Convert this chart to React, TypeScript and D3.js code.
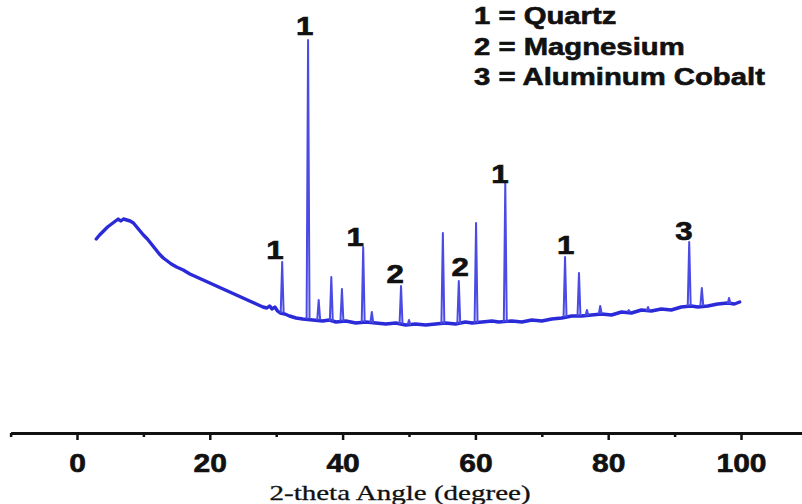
import React, { useEffect, useRef } from "react";
import * as d3 from "d3";

// background curve: [2-theta, intensity]
const background: [number, number][] = [
  [2.9,193],[3.4,197],[4.0,201],[4.6,205],[5.2,208],[5.8,211],[6.2,213],[6.6,211],[7.0,213],[7.5,212],[8.0,211],[8.5,209],[9.0,205],[9.5,201],[10.0,197],[10.6,193],[11.2,188],[11.8,183],[12.4,178],[13.0,174],[13.6,171],[14.2,168],[15.0,165],[16.0,162],[17.0,158],[18.0,155],[19.0,152],[20.0,149],[21.0,146],[22.0,143],[23.0,140],[24.0,137],[25.0,134],[26.0,131],[27.0,128],[28.0,125],[28.6,124],[29.0,126],[29.4,123],[29.8,125],[30.2,121],[30.6,119],[31.3,118],[32.0,116],[33.0,114],[34.0,113],[35.5,112],[37.0,111],[38.0,112],[39.0,110],[40.5,111],[42.0,109],[43.5,110],[45.0,109],[46.5,108],[48.0,109],[49.5,107],[51.0,108],[52.5,107],[54.0,108],[55.5,109],[57.0,108],[58.5,110],[59.5,109],[61.0,110],[62.5,111],[63.5,110],[65.5,111],[67.0,110],[68.5,112],[70.0,111],[71.5,113],[73.0,114],[74.5,116],[76.0,116],[77.5,117],[79.0,118],[80.5,117],[82.0,120],[83.5,119],[85.0,122],[86.5,121],[88.0,123],[89.5,122],[91.0,125],[92.5,126],[93.5,125],[95.0,126],[96.5,128],[98.0,129],[99.0,128],[99.8,130]
];

// peaks: [2-theta, top intensity, foot intensity]
const peaks: [number, number, number][] = [
  [30.9,170,119],[34.8,392,113],[36.4,132,112],[38.3,155,111],[39.9,143,111],[43.1,185,110],[44.4,120,109],[48.8,146,108],[50.0,112,107],[55.1,199,108],[57.5,151,108],[60.1,209,109],[64.5,249,110],[73.5,175,115],[75.6,159,116],[76.8,122,116],[78.8,126,118],[83.1,122,120],[86.0,125,121],[92.2,190,126],[94.1,144,126],[98.2,134,128]
];

// peak labels: [2-theta, intensity, label]
const peakLabels: [number, number, string][] = [
  [29.8,173,"1"],[34.3,397,"1"],[41.9,186,"1"],[47.9,149,"2"],[57.7,156,"2"],[63.7,249,"1"],[73.6,178,"1"],[91.4,192,"3"]
];

const legendItems: string[] = ["1 = Quartz", "2 = Magnesium", "3 = Aluminum Cobalt"];
const majorTicks: number[] = [0, 20, 40, 60, 80, 100];
const minorTicks: number[] = [-10, 10, 30, 50, 70, 90, 110];
const xTitle = "2-theta Angle (degree)";

const W = 802, H = 504;
const SX = 1.22;
const SANS = "Liberation Sans, Arial, sans-serif";

export default function App() {
  const axisRef = useRef<SVGGElement>(null);
  const x = d3.scaleLinear().domain([-10, 110]).range([10.6, 807.4]);
  const y = d3.scaleLinear().domain([0, 400]).range([432, 32]);

  useEffect(() => {
    const g = d3.select(axisRef.current);
    g.selectAll("*").remove();
    const minor = d3.axisBottom(x).tickValues(minorTicks).tickSize(4).tickSizeOuter(0).tickFormat(() => "");
    const major = d3.axisBottom(x).tickValues(majorTicks).tickSize(7).tickSizeOuter(0).tickFormat(d3.format("d"));
    const gm = g.append("g").call(minor);
    gm.select(".domain").remove();
    gm.selectAll("line").attr("stroke", "#111").attr("stroke-width", 2.5);
    const gM = g.append("g").call(major);
    gM.select(".domain").attr("stroke", "#111").attr("stroke-width", 3);
    gM.selectAll("line").attr("stroke", "#111").attr("stroke-width", 2.5);
    gM.selectAll("text")
      .attr("y", 0)
      .attr("dy", null)
      .attr("transform", `translate(0,39) scale(1.2,1)`)
      .attr("font-family", SANS)
      .attr("font-weight", "bold")
      .attr("font-size", 25)
      .attr("fill", "#111")
      .attr("stroke", "#111")
      .attr("stroke-width", 0.6);
  }, []);

  const bgLine = d3.line<[number, number]>().x(d => x(d[0])).y(d => y(d[1]));
  const hw = 0.22;

  return (
    <svg width={W} height={H} style={{ position: "absolute", left: 0, top: 0, background: "#fff" }}>
      <path d={bgLine(background) || ""} fill="none" stroke="#2a2ad8" strokeWidth={3.4} strokeLinejoin="round" strokeLinecap="round" />
      {peaks.map((p, i) => (
        <path key={i}
          d={bgLine([[p[0] - hw, p[2]], [p[0], p[1]], [p[0] + hw, p[2]]]) || ""}
          fill="none" stroke="#4a4ae4" strokeWidth={2} strokeLinejoin="round" />
      ))}
      {peakLabels.map((l, i) => (
        <text key={i} transform={`translate(${x(l[0])},${y(l[1])}) scale(1.2,1)`}
          textAnchor="middle" fontFamily={SANS} fontWeight="bold" fontSize={26} fill="#111" stroke="#111" strokeWidth={0.7}>{l[2]}</text>
      ))}
      <g transform="translate(0,433)" ref={axisRef} />
      <text transform={`translate(400,500) scale(1.32,1)`} textAnchor="middle" fontFamily="Liberation Serif, Times New Roman, serif" fontSize={22} fill="#111" stroke="#111" strokeWidth={0.3}>{xTitle}</text>
      {legendItems.map((t, i) => (
        <text key={i} transform={`translate(474,${24 + i * 30.5}) scale(${SX},1)`}
          fontFamily={SANS} fontWeight="bold" fontSize={24} fill="#111" stroke="#111" strokeWidth={0.6}>{t}</text>
      ))}
    </svg>
  );
}
